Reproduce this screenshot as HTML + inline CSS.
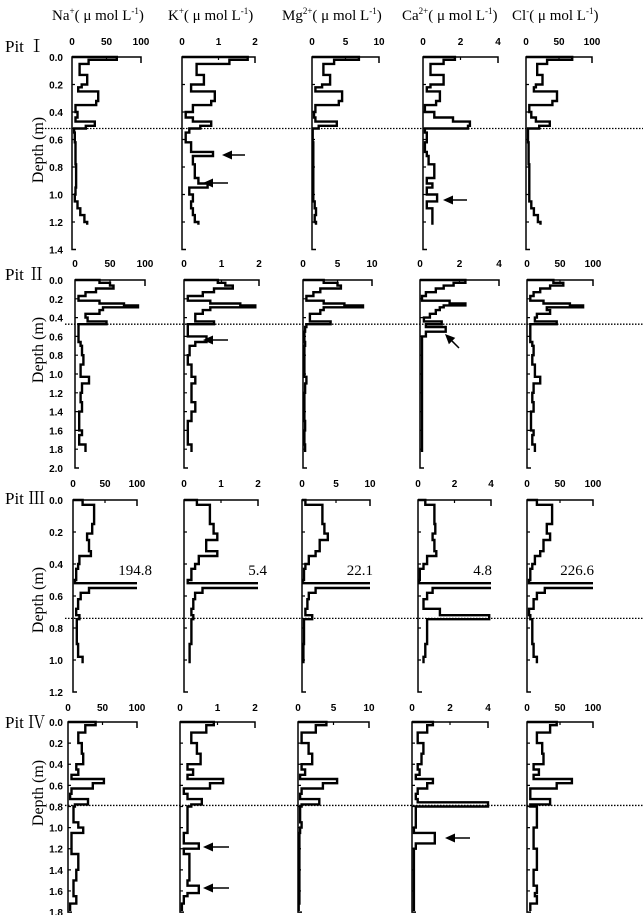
<!DOCTYPE html>
<html><head><meta charset="utf-8"><style>
html,body{margin:0;padding:0;background:#fff;}
svg{display:block;font-family:"Liberation Sans",sans-serif;}
.ser{font-family:"Liberation Serif","Noto Serif CJK SC",serif;}
</style></head><body>
<svg id="fig" width="643" height="915" viewBox="0 0 643 915">
<g class="ser" font-size="15">
<text x="52" y="20">Na<tspan font-size="9" dy="-6">+</tspan><tspan dy="6">( μ mol L</tspan><tspan font-size="9" dy="-6">-1</tspan><tspan dy="6">)</tspan></text>
<text x="168" y="20">K<tspan font-size="9" dy="-6">+</tspan><tspan dy="6">( μ mol L</tspan><tspan font-size="9" dy="-6">-1</tspan><tspan dy="6">)</tspan></text>
<text x="282" y="20">Mg<tspan font-size="9" dy="-6">2+</tspan><tspan dy="6">( μ mol L</tspan><tspan font-size="9" dy="-6">-1</tspan><tspan dy="6">)</tspan></text>
<text x="402" y="20">Ca<tspan font-size="9" dy="-6">2+</tspan><tspan dy="6">( μ mol L</tspan><tspan font-size="9" dy="-6">-1</tspan><tspan dy="6">)</tspan></text>
<text x="512" y="20">Cl<tspan font-size="9" dy="-6">-</tspan><tspan dy="6">( μ mol L</tspan><tspan font-size="9" dy="-6">-1</tspan><tspan dy="6">)</tspan></text>
</g>
</svg>
<script>
// ---- data ----
const ionNames = ["na","k","mg","ca","cl"];
const ionMax = [100, 2, 10, 4, 100];
const ionMidTick = ["50","1","5","2","50"];
const ionMaxTick = ["100","2","10","4","100"];

const pit1Depth = [0,0.02,0.05,0.13,0.2,0.22,0.25,0.32,0.35,0.4,0.44,0.47,0.5,0.52,0.55,0.62,0.69,0.72,0.78,0.88,0.92,0.95,1.0,1.05,1.1,1.15,1.2,1.22];
const pit1Na = [65,24,11,22,14,9,38,35,5,8,5,33,20,3,4,5,5,5,6,6,6,5,4,8,12,18,22];
const pit1K = [1.8,1.3,0.4,0.6,0.25,0.25,0.9,0.8,0.3,0.1,0.3,0.8,0.5,0.2,0.1,0.25,0.85,0.3,0.35,0.45,0.7,0.2,0.3,0.25,0.3,0.35,0.45];
const pit1Mg = [7,3.3,1.7,2.7,1.5,0.5,4.5,4,0.5,0.3,0.5,3.7,1,0.1,0.1,0.2,0.2,0.2,0.2,0.2,0.2,0.2,0.2,0.4,0.6,0.4,0.6];
const pit1Ca = [1.7,1.1,0.4,1.1,0.4,0.2,0.9,0.7,0.1,0.6,1.6,2.5,2.4,0.1,0.2,0.1,0.2,0.3,0.6,0.2,0.5,0.2,0.75,0.2,0.5,0.5,0.5];
const pit1Cl = [70,32,17,25,15,12,47,40,5,8,15,36,20,3,3,4,4,4,5,5,5,5,5,8,12,18,22];

const pit2Depth = [0,0.03,0.06,0.09,0.13,0.17,0.22,0.25,0.27,0.29,0.32,0.36,0.4,0.44,0.47,0.5,0.55,0.6,0.66,0.7,0.8,0.9,1.03,1.1,1.2,1.3,1.4,1.5,1.6,1.65,1.75,1.83];
const pit2Na = [35,50,55,30,15,5,35,70,90,40,35,15,18,45,5,5,5,5,8,10,12,8,20,10,8,10,6,6,10,6,15];
const pit2K = [0.9,1.1,1.3,0.8,0.5,0.1,0.7,1.5,1.9,0.7,0.5,0.3,0.3,0.8,0.1,0.1,0.1,0.6,0.3,0.15,0.1,0.2,0.3,0.2,0.2,0.3,0.2,0.1,0.1,0.1,0.2];
const pit2Mg = [3,5,5.5,2.5,1.5,0.5,3,6,8.7,3,2.5,1,1,4,0.5,0.3,0.2,0.2,0.3,0.2,0.2,0.2,0.5,0.3,0.2,0.2,0.2,0.3,0.2,0.2,0.3];
const pit2Ca = [2.3,1.7,1.2,0.8,0.3,0.1,1.5,2.3,1.2,1,0.8,0.5,0.2,1.1,0.3,1.3,0.3,0.1,0.1,0.1,0.1,0.1,0.1,0.1,0.1,0.1,0.1,0.1,0.1,0.1,0.1];
const pit2Cl = [40,55,35,20,10,5,25,65,85,30,35,15,12,45,5,5,5,5,8,10,8,12,20,10,8,10,6,6,10,8,12];

const pit3Depth = [0,0.03,0.15,0.21,0.25,0.32,0.35,0.4,0.43,0.5,0.52,0.55,0.58,0.62,0.68,0.72,0.745,0.9,0.98,1.02];
const pit3Na = [15,33,30,22,25,28,10,8,5,3,194.8,25,12,8,5,10,6,8,15];
const pit3K = [0.35,0.7,0.8,0.9,0.6,0.9,0.4,0.3,0.2,0.1,5.4,0.5,0.3,0.25,0.2,0.25,0.2,0.15,0.15];
const pit3Mg = [0.5,3,3.3,3.8,2.6,2,1.0,0.5,0.3,0.1,22.1,2,1,0.8,0.5,1.5,0.3,0.2,0.2];
const pit3Ca = [0.4,0.9,0.95,0.8,0.9,1.0,0.5,0.3,0.1,0.05,4.8,0.8,0.5,0.3,1.2,3.9,0.5,0.4,0.3];
const pit3Cl = [15,38,30,35,25,20,12,8,5,3,226.6,27,15,10,3,5,8,10,15];
const pit3PeakLabels = ["194.8","5.4","22.1","4.8","226.6"];

const pit4Depth = [0,0.03,0.1,0.2,0.3,0.4,0.45,0.5,0.54,0.58,0.63,0.68,0.73,0.76,0.78,0.8,0.95,1.0,1.05,1.15,1.2,1.25,1.4,1.5,1.55,1.62,1.65,1.72,1.79];
const pit4Na = [40,25,15,20,22,12,15,5,52,36,5,3,29,29,10,8,15,22,5,5,5,15,12,8,8,8,12,3];
const pit4K = [0.9,0.7,0.3,0.45,0.55,0.2,0.35,0.2,1.15,0.8,0.1,0.2,0.58,0.58,0.3,0.2,0.2,0.2,0.1,0.5,0.1,0.25,0.25,0.2,0.5,0.2,0.1,0.05];
const pit4Mg = [4,2.5,0.5,1.5,2,0.5,1,0.3,5.5,3.5,0.5,0.3,3,3,0.5,0.3,0.5,0.3,0.2,0.2,0.2,0.2,0.2,0.2,0.2,0.2,0.2,0.1];
const pit4Ca = [1.1,0.8,0.3,0.6,0.5,0.3,0.4,0.2,1.1,0.8,0.3,0.2,0.3,4.0,4.0,0.2,0.2,0.1,1.2,0.2,0.1,0.1,0.1,0.1,0.1,0.1,0.1,0.1];
const pit4Cl = [45,35,15,23,25,10,18,10,68,45,5,5,35,35,5,15,15,10,10,10,15,15,10,10,15,12,15,5];

const pitNames = ["Pit Ⅰ","Pit Ⅱ","Pit Ⅲ","Pit Ⅳ"];
const pitAxisMax = [1.4, 2.0, 1.2, 1.8];
const pitBoundary = [0.52, 0.47, 0.74, 0.79];

// ---- layout ----
const layouts = [
 {top:57, ppm:137.5, tickY:45, label:52, depthY:150, dotX:42, x0:[72,182,312,423,526], x1:[141,255,379,498,592]},
 {top:280, ppm:94, tickY:267, label:280, depthY:350, dotX:65, x0:[75,184,303,420,527], x1:[145,259,372,499,593]},
 {top:500, ppm:160, tickY:487, label:504, depthY:600, dotX:65, x0:[73,184,302,418,527], x1:[137,258,370,491,593]},
 {top:722, ppm:105.6, tickY:711, label:728, depthY:793, dotX:65, x0:[68,180,298,412,527], x1:[137,255,369,488,593]}
];
const pitData = [
 [pit1Depth,[pit1Na,pit1K,pit1Mg,pit1Ca,pit1Cl]],
 [pit2Depth,[pit2Na,pit2K,pit2Mg,pit2Ca,pit2Cl]],
 [pit3Depth,[pit3Na,pit3K,pit3Mg,pit3Ca,pit3Cl]],
 [pit4Depth,[pit4Na,pit4K,pit4Mg,pit4Ca,pit4Cl]]
];

const NS = "http://www.w3.org/2000/svg";
const svg = document.getElementById("fig");
function mk(tag, attrs, parent){
  const e = document.createElementNS(NS, tag);
  for (const k in attrs) e.setAttribute(k, attrs[k]);
  (parent||svg).appendChild(e);
  return e;
}

for (let p=0;p<4;p++){
  const L = layouts[p];
  const yS = d => L.top + d*L.ppm;
  const g = mk("g",{});
  
  

  const pl = mk("text",{x:5,y:L.label,"font-size":17,"class":"ser"},g);
  pl.textContent = pitNames[p];
  
  

  const dl = mk("text",{x:0,y:0,"font-size":16,"class":"ser","text-anchor":"middle",transform:"translate(43,"+L.depthY+") rotate(-90)"},g);
  dl.textContent = "Depth (m)";
  
  

  const yBottom = yS(pitAxisMax[p]);
  const nT = Math.round(pitAxisMax[p]/0.2);
  for (let i=0;i<=nT;i++){
    const d = i*0.2;
    const t = mk("text",{x:63,y:yS(d)+4,"font-size":10,"font-weight":"bold","text-anchor":"end"},g);
    t.textContent = d.toFixed(1);
    
    
  }

  const [depths, series] = pitData[p];
  for (let c=0;c<5;c++){
    const x0=L.x0[c], x1=L.x1[c];
    const xS = v => x0 + Math.min(v, ionMax[c])/ionMax[c]*(x1-x0);
    const pg = mk("g",{},g);
    
    
    const ax = mk("path",{d:"M"+x1+","+(L.top+6)+"V"+L.top+"H"+x0+"V"+yBottom+"h4",fill:"none",stroke:"#000","stroke-width":1.5},pg);
    
    
    let tk = "M"+((x0+x1)/2)+","+L.top+"v3";
    for (let i=1;i<nT;i++) tk += "M"+x0+","+yS(i*0.2)+"h3";
    const tkp = mk("path",{d:tk,stroke:"#000","stroke-width":1.2,fill:"none"},pg);
    
    
    const labs = ["0", ionMidTick[c], ionMaxTick[c]];
    const xs = [x0,(x0+x1)/2,x1];
    for (let i=0;i<3;i++){
      const t = mk("text",{x:xs[i],y:L.tickY,"font-size":10,"font-weight":"bold","text-anchor":"middle"},pg);
      t.textContent = labs[i];
      
      
    }
    const vals = series[c];
    let d = "M"+x0+","+yS(depths[0]);
    for (let i=0;i<vals.length;i++){
      const xv = xS(vals[i]).toFixed(1);
      if (vals[i] > ionMax[c]) {
        d += "H"+xv+"M"+xv+","+yS(depths[i+1]).toFixed(1)+"H"+xS(vals[i+1]!==undefined?Math.min(vals[i+1],ionMax[c]):0).toFixed(1);
        if (vals[i+1]!==undefined){ d += "V"+yS(depths[i+2]).toFixed(1); i++; }
      } else {
        d += "H"+xv+"V"+yS(depths[i+1]).toFixed(1);
      }
    }
    const prof = mk("path",{d:d,fill:"none",stroke:"#000","stroke-width":2.4,"stroke-linejoin":"miter"},pg);
    
    
    if (p===2){
      const t = mk("text",{x:x1+(c===0?15:c===1?9:c===2?3:1),y:575,"font-size":15,"class":"ser","text-anchor":"end"},pg);
      t.textContent = pit3PeakLabels[c];
      
      
    }
  }
  const dot = mk("line",{x1:L.dotX,x2:643,y1:yS(pitBoundary[p]),y2:yS(pitBoundary[p]),stroke:"#000","stroke-width":1.3,"stroke-dasharray":"1.5,1.5"},g);
  
  
}

const arrows = [[245,155,222,155],[228,183,203,183],[467,200,443,200],[228,340,203,340],[459,348,445,334],[229,847,203,847],[229,888,203,888],[470,838,445,838]];
for (const a of arrows){
  const [x1,y1,x2,y2]=a;
  const ang = Math.atan2(y2-y1,x2-x1);
  const hl=10, hw=4.5;
  const bx = x2-hl*Math.cos(ang), by=y2-hl*Math.sin(ang);
  const px = -Math.sin(ang)*hw, py=Math.cos(ang)*hw;
  const ln = mk("line",{x1:x1,y1:y1,x2:bx,y2:by,stroke:"#000","stroke-width":1.5});
  
  
  const hd = mk("polygon",{points:x2+","+y2+" "+(bx+px)+","+(by+py)+" "+(bx-px)+","+(by-py),fill:"#000"});
  
  
}
</script>
</body></html>
